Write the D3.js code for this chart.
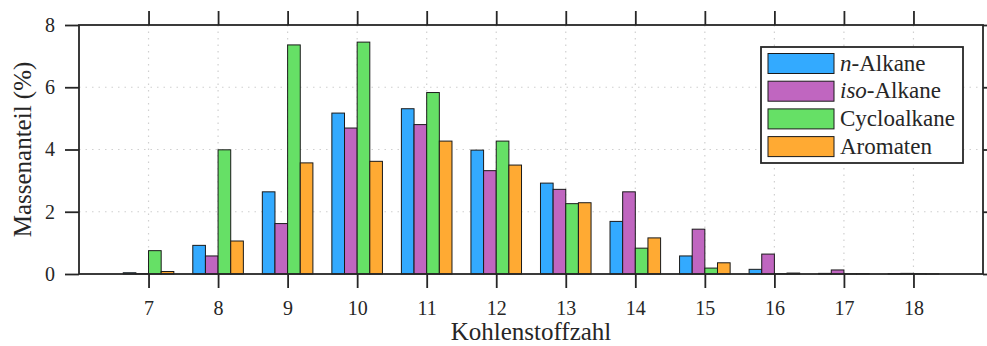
<!DOCTYPE html>
<html>
<head>
<meta charset="utf-8">
<script src="https://cdn.jsdelivr.net/npm/d3@7"></script>
<style>
  body { margin: 0; background: #fff; }
  text { font-family: "Liberation Serif", "DejaVu Serif", serif; fill: #262626; }
</style>
</head>
<body>
<div id="chart"></div>
<script>
// ---------------------------------------
// data
const carbons = [7, 8, 9, 10, 11, 12, 13, 14, 15, 16, 17, 18];
const nAlkane = [0.04, 0.92, 2.64, 5.17, 5.31, 3.98, 2.92, 1.69, 0.58, 0.15, 0.02, 0.01];
const isoAlkane = [0.01, 0.58, 1.62, 4.69, 4.80, 3.32, 2.72, 2.64, 1.44, 0.64, 0.13, 0.02];
const cycloAlkane = [0.75, 3.99, 7.36, 7.45, 5.83, 4.27, 2.26, 0.83, 0.19, 0.01, 0.01, 0.01];
const aromaten = [0.08, 1.06, 3.57, 3.62, 4.27, 3.50, 2.29, 1.16, 0.36, 0.03, 0.01, 0.005];
const yTicks = [0, 2, 4, 6, 8];

const series = [
  {key: "n", values: nAlkane, color: "#33aaff"},
  {key: "iso", values: isoAlkane, color: "#c066c0"},
  {key: "cyclo", values: cycloAlkane, color: "#66e066"},
  {key: "arom", values: aromaten, color: "#ffaa33"}
];

// ---------------------------------------
// svg params
const W = 987, H = 346;
const margin = {top: 25, right: 4, bottom: 72, left: 79};
const width = W - margin.left - margin.right;
const height = H - margin.top - margin.bottom;

const svg = d3.select("#chart")
    .append("svg")
    .attr("width", W)
    .attr("height", H);

const g = svg.append("g")
    .attr("transform", "translate(" + margin.left + "," + margin.top + ")");

const x = d3.scaleLinear().domain([6, 19]).range([0, width]);
const y = d3.scaleLinear().domain([0, 8]).range([height, 0]);

// matlab-like grouped bar: group width 4/(4+1.5)
const groupW = 4 / 5.5;
const barW = groupW / series.length;

// ---------------------------------------
// dotted grid
g.append("g").selectAll("line")
    .data(carbons)
    .join("line")
    .attr("x1", (d) => x(d)).attr("x2", (d) => x(d))
    .attr("y1", 0).attr("y2", height)
    .attr("stroke", "#d0d0d0")
    .attr("stroke-width", 1.2)
    .attr("stroke-dasharray", "1.5,5");

g.append("g").selectAll("line")
    .data(yTicks.filter((d) => d > 0 && d < 8))
    .join("line")
    .attr("x1", 0).attr("x2", width)
    .attr("y1", (d) => y(d)).attr("y2", (d) => y(d))
    .attr("stroke", "#d0d0d0")
    .attr("stroke-width", 1.2)
    .attr("stroke-dasharray", "1.5,5");

// ---------------------------------------
// bars
series.forEach(function(s, j) {
  g.append("g").selectAll("rect")
      .data(carbons.map((c, i) => ({c: c, v: s.values[i]})))
      .join("rect")
      .attr("x", (d) => x(d.c + (j - 2) * barW))
      .attr("width", x(barW) - x(0))
      .attr("y", (d) => y(d.v))
      .attr("height", (d) => y(0) - y(d.v))
      .attr("fill", s.color)
      .attr("stroke", "#1a1a1a")
      .attr("stroke-width", 1);
});

// ---------------------------------------
// axes (ticks out on all four sides)
const tickLen = 14;
const axisColor = "#262626";

const axBottom = g.append("g")
    .attr("transform", "translate(0," + height + ")")
    .call(d3.axisBottom(x).tickValues(carbons).tickSize(tickLen).tickPadding(13).tickFormat(d3.format("d")));
const axTop = g.append("g")
    .call(d3.axisTop(x).tickValues(carbons).tickSize(tickLen).tickFormat(""));
const axLeft = g.append("g")
    .call(d3.axisLeft(y).tickValues(yTicks).tickSize(tickLen).tickPadding(10));
const axRight = g.append("g")
    .attr("transform", "translate(" + width + ",0)")
    .call(d3.axisRight(y).tickValues(yTicks).tickSize(tickLen).tickFormat(""));

[axBottom, axTop, axLeft, axRight].forEach(function(a) {
  a.select(".domain").remove();
  a.selectAll(".tick line").attr("stroke", axisColor).attr("stroke-width", 1.8);
  a.selectAll(".tick text")
      .style("font-family", "'Liberation Serif', serif")
      .style("font-size", "20px")
      .attr("fill", axisColor);
});

// box
g.append("rect")
    .attr("x", 0).attr("y", 0)
    .attr("width", width).attr("height", height)
    .attr("fill", "none")
    .attr("stroke", axisColor)
    .attr("stroke-width", 1.8);

// axis labels
svg.append("text")
    .attr("x", margin.left + width / 2)
    .attr("y", 340)
    .attr("text-anchor", "middle")
    .style("font-size", "25px")
    .text("Kohlenstoffzahl");

svg.append("text")
    .attr("transform", "translate(31," + (margin.top + height / 2) + ") rotate(-90)")
    .attr("text-anchor", "middle")
    .style("font-size", "25px")
    .text("Massenanteil (%)");

// ---------------------------------------
// legend
const legend = svg.append("g").attr("transform", "translate(761,47)");
legend.append("rect")
    .attr("width", 202).attr("height", 116)
    .attr("fill", "#fff")
    .attr("stroke", axisColor)
    .attr("stroke-width", 1.8);

const rowStep = 27.7;
const item = legend.selectAll(".item")
    .data(series)
    .join("g")
    .attr("class", "item")
    .attr("transform", (d, i) => "translate(7," + (6.5 + i * rowStep) + ")");

item.append("rect")
    .attr("width", 66).attr("height", 20)
    .attr("fill", (d) => d.color)
    .attr("stroke", "#1a1a1a")
    .attr("stroke-width", 1);

const lt = item.append("text")
    .attr("x", 72).attr("y", 17)
    .style("font-size", "23px");

lt.each(function(d) {
  const t = d3.select(this);
  if (d.key === "n") {
    t.append("tspan").style("font-style", "italic").text("n");
    t.append("tspan").text("-Alkane");
  } else if (d.key === "iso") {
    t.append("tspan").style("font-style", "italic").text("iso");
    t.append("tspan").text("-Alkane");
  } else if (d.key === "cyclo") {
    t.text("Cycloalkane");
  } else {
    t.text("Aromaten");
  }
});
</script>
</body>
</html>
